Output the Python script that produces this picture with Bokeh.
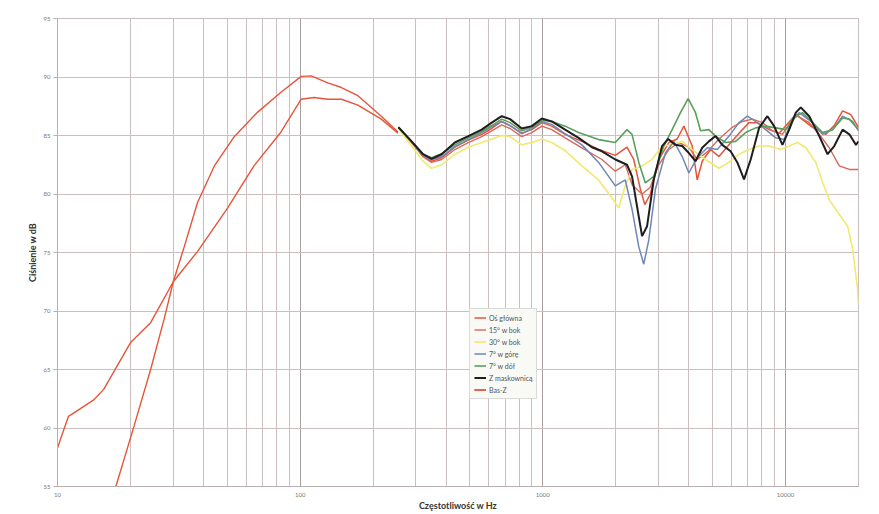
from bokeh.plotting import figure
from bokeh.models import Range1d, FixedTicker, PrintfTickFormatter, Legend, LegendItem
from bokeh.embed import file_html
from bokeh.resources import INLINE

# ---------------- data ----------------
x_major_ticks = [10, 100, 1000, 10000]
x_minor_ticks = [20, 30, 40, 50, 60, 70, 80, 90,
                 200, 300, 400, 500, 600, 700, 800, 900,
                 2000, 3000, 4000, 5000, 6000, 7000, 8000, 9000, 20000]
y_ticks = [55, 60, 65, 70, 75, 80, 85, 90, 95]

# Bas-Z (two low-frequency measurements)
basz_a_f = [10, 11.1, 11.9, 14.1, 15.5, 20, 24.2, 30, 37.8, 50.2, 64.5, 83.4, 101, 114, 130, 148, 173, 216, 253]
basz_a_db = [58.3, 61.0, 61.4, 62.4, 63.3, 67.3, 69.0, 72.5, 75.1, 78.8, 82.4, 85.3, 88.1, 88.25, 88.1, 88.1, 87.6, 86.4, 85.2]
basz_b_f = [17.4, 20.7, 24.2, 27.5, 30, 33.3, 37.8, 44.3, 53.5, 66.8, 83.4, 101, 111, 130, 148, 173, 216, 253]
basz_b_db = [55.0, 60.2, 65.0, 69.3, 72.5, 75.5, 79.3, 82.4, 84.9, 87.0, 88.7, 90.05, 90.1, 89.5, 89.1, 88.4, 86.65, 85.3]

# Oś główna
os_f = [254, 288, 321, 348, 383, 434, 493, 560, 616, 677, 733, 819, 901, 991, 1089, 1236, 1449, 1699, 1990,
        2223, 2370, 2525, 2632, 2776, 3007, 3307, 3578, 3814, 4128, 4328, 4540, 4912, 5321, 5852, 6437,
        7079, 7656, 8563, 9419, 11030, 12931, 14672, 15946, 17200, 18560, 20000]
os_db = [85.7, 84.4, 83.2, 82.8, 83.1, 84.0, 84.6, 85.1, 85.6, 86.2, 85.85, 85.2, 85.5, 86.1, 85.8, 85.1, 84.5, 83.8, 83.3,
         84.0, 82.95, 80.4, 79.1, 80.0, 82.95, 84.4, 84.7, 85.8, 84.1, 81.2, 82.8, 83.8, 83.2, 84.2, 85.2,
         86.1, 86.1, 85.5, 85.2, 86.8, 85.7, 85.1, 85.9, 87.1, 86.8, 85.7]

# 15° w bok
b15_f = [254, 288, 321, 348, 383, 434, 493, 560, 616, 677, 733, 819, 901, 991, 1089, 1236, 1449, 1753, 1990,
         2188, 2332, 2565, 2768, 3007, 3307, 3636, 4000, 4328, 4761, 5321, 6039, 6642, 7305, 8035, 8833,
         9719, 10690, 11209, 12530, 13785, 15155, 16673, 18335, 20000]
b15_db = [85.7, 84.4, 83.2, 82.7, 82.95, 83.8, 84.4, 84.9, 85.4, 85.9, 85.6, 84.9, 85.25, 85.8, 85.5, 84.8, 83.95, 82.95, 81.95,
          82.5, 80.8, 80.0, 80.55, 82.5, 83.8, 84.4, 84.0, 82.95, 83.6, 84.7, 85.7, 86.2, 86.4, 86.1, 85.4,
          85.1, 86.4, 86.65, 86.1, 85.1, 83.95, 82.4, 82.1, 82.1]

# 30° w bok
b30_f = [254, 288, 321, 348, 383, 434, 493, 560, 616, 677, 733, 819, 901, 991, 1089, 1236, 1449, 1699, 1990,
         2055, 2188, 2332, 2565, 2821, 3102, 3412, 3753, 4128, 4684, 5321, 5852, 6437, 7079, 7786, 8563,
         9563, 10358, 11209, 12130, 13340, 14223, 15155, 16673, 18035, 18920, 19840, 20000]
b30_db = [85.6, 84.1, 82.8, 82.2, 82.5, 83.4, 84.0, 84.4, 84.7, 85.0, 84.9, 84.2, 84.4, 84.7, 84.4, 83.7, 82.4, 81.2, 79.25,
          78.8, 80.7, 82.1, 82.4, 82.95, 84.1, 84.2, 84.5, 83.8, 82.95, 82.2, 82.7, 83.4, 83.8, 84.1, 84.1,
          83.8, 84.1, 84.4, 83.95, 82.7, 81.0, 79.5, 78.25, 77.25, 75.3, 71.8, 70.6]

# 7° w górę
up_f = [254, 288, 321, 348, 383, 434, 493, 560, 616, 677, 733, 819, 901, 991, 1089, 1236, 1449, 1699, 1990,
        2188, 2332, 2486, 2606, 2735, 2911, 3201, 3467, 3753, 4000, 4328, 4761, 5236, 5852, 6437, 6966,
        7537, 8289, 9120, 9876, 10690, 11393, 12931, 14223, 15639, 17200, 18920, 20000]
up_db = [85.7, 84.45, 83.3, 82.95, 83.2, 84.05, 84.65, 85.25, 85.75, 86.2, 85.85, 85.15, 85.6, 86.2, 85.95, 85.15, 84.2, 82.7, 80.7,
         81.2, 78.7, 75.5, 74.0, 76.1, 80.4, 83.5, 84.5, 83.2, 81.8, 83.1, 83.95, 83.8, 84.95, 86.1, 86.65,
         86.2, 85.5, 84.8, 84.65, 86.4, 86.95, 86.1, 85.1, 85.5, 86.65, 86.2, 85.4]

# 7° w dół
down_f = [254, 288, 321, 348, 383, 434, 493, 560, 616, 677, 733, 819, 901, 991, 1089, 1236, 1404, 1699, 1990,
          2223, 2332, 2486, 2647, 2867, 3153, 3412, 3693, 3972, 4259, 4467, 4837, 5152, 5667, 6232, 6855,
          7537, 8289, 9120, 10028, 11030, 11752, 12931, 14223, 15639, 17200, 18335, 20000]
down_db = [85.7, 84.5, 83.4, 83.1, 83.45, 84.2, 84.8, 85.35, 85.85, 86.4, 86.1, 85.4, 85.7, 86.3, 86.2, 85.8, 85.25, 84.65, 84.4,
           85.5, 85.1, 82.7, 80.95, 81.5, 84.1, 85.5, 86.95, 88.15, 86.95, 85.4, 85.5, 84.95, 84.4, 84.5, 85.25,
           85.65, 85.8, 85.65, 85.5, 86.65, 86.95, 86.1, 85.25, 85.5, 86.5, 86.4, 85.5]

# Z maskownicą
mask_f = [254, 288, 321, 348, 383, 434, 493, 560, 616, 677, 733, 819, 901, 991, 1089, 1236, 1404, 1594, 1753,
          1990, 2223, 2332, 2445, 2565, 2690, 2867, 3102, 3285, 3521, 3753, 4000, 4259, 4540, 4837, 5152,
          5492, 5943, 6334, 6750, 7189, 7786, 8425, 8981, 9719, 10358, 11030, 11567, 12530, 13785, 14914,
          15894, 17200, 18335, 19522, 20000]
mask_db = [85.7, 84.5, 83.4, 83.0, 83.4, 84.4, 84.95, 85.5, 86.1, 86.65, 86.4, 85.6, 85.8, 86.45, 86.2, 85.5, 84.8, 84.0, 83.65,
           82.95, 82.5, 81.5, 78.95, 76.4, 77.25, 81.25, 84.1, 84.7, 84.2, 84.1, 83.5, 82.8, 83.95, 84.5, 84.95,
           84.2, 83.65, 82.7, 81.25, 82.95, 85.65, 86.65, 85.8, 84.2, 85.5, 86.95, 87.4, 86.65, 84.95, 83.4,
           84.1, 85.5, 85.1, 84.2, 84.5]

series = [
    ("Oś główna", os_f, os_db, "#e4553a", 1.5),
    ("15° w bok", b15_f, b15_db, "#d9685a", 1.4),
    ("30° w bok", b30_f, b30_db, "#f2e96e", 1.6),
    ("7° w górę", up_f, up_db, "#6f87b6", 1.5),
    ("7° w dół", down_f, down_db, "#5aa05a", 1.6),
    ("Z maskownicą", mask_f, mask_db, "#1e1e1e", 2.0),
]

FONT = "Lato"
GRID = "#cdbfbf"

p = figure(x_axis_type="log", x_range=Range1d(10, 20000), y_range=Range1d(55, 95),
           frame_width=801, frame_height=468,
           min_border_left=57, min_border_right=12, min_border_top=18, min_border_bottom=20,
           output_backend="svg", toolbar_location=None,
           background_fill_color="white", border_fill_color="white")

p.outline_line_color = "#c8c0c0"

# axes
p.xaxis.ticker = FixedTicker(ticks=x_major_ticks, minor_ticks=x_minor_ticks)
p.xaxis.formatter = PrintfTickFormatter(format="%d")
p.yaxis.ticker = FixedTicker(ticks=y_ticks)
for ax in (p.xaxis, p.yaxis):
    ax.major_label_text_font = FONT
    ax.major_label_text_font_size = "6px"
    ax.major_label_text_color = "#777777"
    ax.axis_line_color = "#b8b0b0"
    ax.major_tick_line_color = "#b8b0b0"
    ax.major_tick_in = 0
    ax.minor_tick_line_color = None
    ax.axis_label_text_font = FONT
    ax.axis_label_text_font_style = "bold"
    ax.axis_label_text_font_size = "9px"
    ax.axis_label_text_color = "#333333"
    ax.major_label_standoff = 3
    ax.axis_label_standoff = 3
p.xaxis.major_tick_out = 0
p.xaxis.major_label_standoff = 2
p.xaxis.axis_label_standoff = 0
p.yaxis.major_tick_out = 4
p.xaxis.axis_label = "Częstotliwość w Hz"
p.yaxis.axis_label = "Ciśnienie w dB"

p.xgrid.ticker = FixedTicker(ticks=x_major_ticks, minor_ticks=x_minor_ticks)
p.xgrid.grid_line_color = "#a99c9c"
p.xgrid.minor_grid_line_color = GRID
p.ygrid.ticker = FixedTicker(ticks=y_ticks)
p.ygrid.grid_line_color = GRID

items = []
for name, f, db, color, w in series:
    r = p.line(f, db, line_color=color, line_width=w)
    items.append(LegendItem(label=name, renderers=[r]))

ra = p.line(basz_a_f, basz_a_db, line_color="#e4553a", line_width=1.4)
rb = p.line(basz_b_f, basz_b_db, line_color="#e4553a", line_width=1.4)
items.append(LegendItem(label="Bas-Z", renderers=[ra, rb]))

legend = Legend(items=items, location=(412, 87))
legend.label_text_font = FONT
legend.label_text_font_size = "7px"
legend.label_text_color = "#555555"
legend.glyph_width = 12
legend.glyph_height = 9
legend.label_height = 9
legend.spacing = 3
legend.padding = 4
legend.margin = 0
legend.label_standoff = 3
legend.border_line_color = "#bbbbbb"
legend.background_fill_color = "#f9f9f6"
legend.background_fill_alpha = 1.0
p.add_layout(legend, "center")

open("out.html", "w").write(file_html(p, INLINE))
